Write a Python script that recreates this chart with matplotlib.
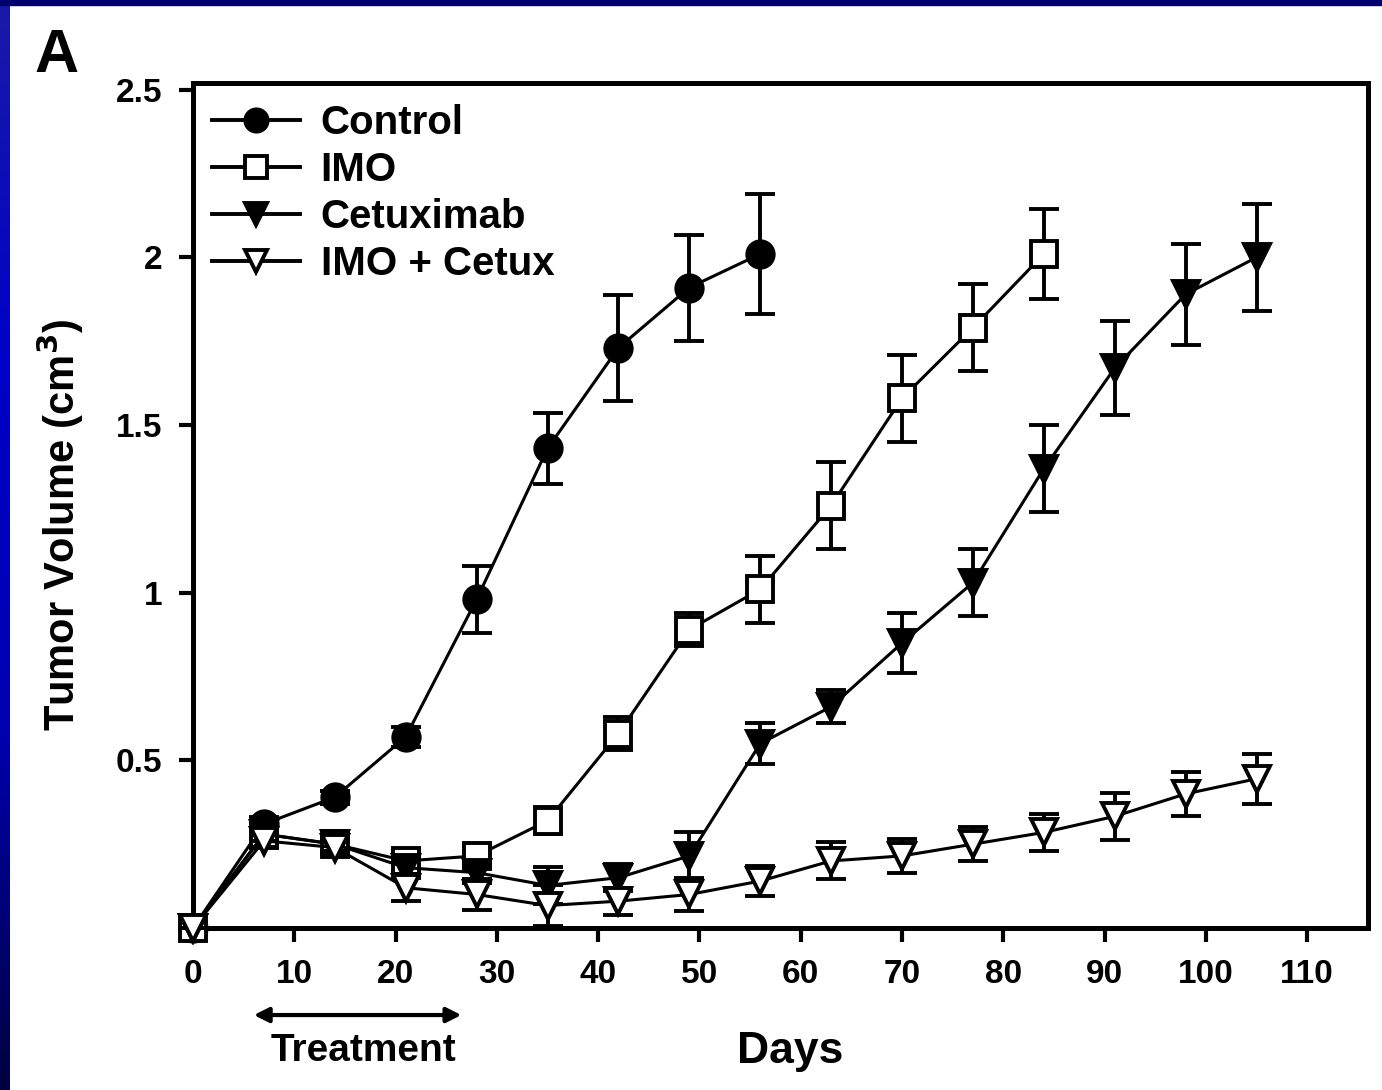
import numpy as np
import matplotlib
matplotlib.use("Agg")
import matplotlib.pyplot as plt
from matplotlib.patches import Rectangle
from matplotlib.lines import Line2D
from matplotlib.colors import LinearSegmentedColormap

plt.rcParams['font.family'] = ['Liberation Sans', 'DejaVu Sans']
plt.rcParams['font.weight'] = 'bold'

# tumour volume (cm3)
days_ctrl = [0, 7, 14, 21, 28, 35, 42, 49, 56]
ctrl = [0.0, 0.31, 0.39, 0.57, 0.98, 1.43, 1.73, 1.91, 2.01]
ctrl_err = [0, 0.02, 0.02, 0.03, 0.10, 0.105, 0.157, 0.158, 0.18]

days_imo = [0, 7, 14, 21, 28, 35, 42, 49, 56, 63, 70, 77, 84]
imo = [0.0, 0.28, 0.25, 0.20, 0.215, 0.32, 0.58, 0.89, 1.01, 1.26, 1.58, 1.79, 2.01]
imo_err = [0, 0.02, 0.03, 0.03, 0.03, 0.04, 0.05, 0.05, 0.10, 0.13, 0.13, 0.13, 0.134]

days_cet = [0, 7, 14, 21, 28, 35, 42, 49, 56, 63, 70, 77, 84, 91, 98, 105]
cet = [0.0, 0.28, 0.25, 0.18, 0.165, 0.127, 0.15, 0.215, 0.55, 0.66, 0.85, 1.03,
       1.37, 1.67, 1.89, 2.0]
cet_err = [0, 0.02, 0.02, 0.03, 0.03, 0.055, 0.04, 0.07, 0.06, 0.05, 0.09, 0.10,
           0.13, 0.14, 0.15, 0.16]

combo = [0.0, 0.26, 0.24, 0.12, 0.10, 0.067, 0.08, 0.10, 0.14, 0.20, 0.215, 0.25,
         0.285, 0.333, 0.40, 0.445]
combo_err = [0, 0.02, 0.02, 0.04, 0.045, 0.06, 0.04, 0.05, 0.045, 0.055, 0.05, 0.05,
             0.055, 0.07, 0.065, 0.075]

xticks = [0, 10, 20, 30, 40, 50, 60, 70, 80, 90, 100, 110]
yticks = [0.5, 1, 1.5, 2, 2.5]
ytick_labels = ['0.5', '1', '1.5', '2', '2.5']

W, H = 1382, 1090
fig = plt.figure(figsize=(W / 100, H / 100), dpi=100)
fig.patch.set_facecolor('white')

# blue slide frame
strip = fig.add_axes([0, 0, 10 / W, 1])
grad = np.linspace(0, 1, 256)[:, None]
cm = LinearSegmentedColormap.from_list('frame', ['#1a1aa8', '#0000c8', '#0000b0', '#000040'])
strip.imshow(grad, aspect='auto', cmap=cm, extent=[0, 1, 1, 0])
strip.axis('off')
fig.patches.append(Rectangle((0, 1 - 5 / H), 1, 5 / H, transform=fig.transFigure,
                             color='#00006e', zorder=5))

ax = fig.add_axes([193 / W, 1 - 928 / H, (1368 - 193) / W, (928 - 83) / H])

common = dict(color='black', lw=2.2, ms=19, mew=2.8, elinewidth=2.8,
              capsize=11, capthick=2.8, clip_on=False)
series = [
    (days_ctrl, ctrl, ctrl_err, 'o', 'black', 'Control'),
    (days_imo, imo, imo_err, 's', 'white', 'IMO'),
    (days_cet, cet, cet_err, 'v', 'black', 'Cetuximab'),
    (days_cet, combo, combo_err, 'v', 'white', 'IMO + Cetux'),
]
handles = []
for i, (x, y, e, m, fc, lab) in enumerate(series):
    ax.errorbar(x, y, yerr=e, marker=m, mfc=fc, mec='black', zorder=3 + i, **common)
    handles.append(Line2D([], [], color='black', lw=2.8, marker=m, ms=16, mew=2.8,
                          mfc=fc, mec='black', label=lab))

ax.set_xlim(0, 116)
ax.set_ylim(0, 2.52)
ax.set_xticks(xticks)
ax.set_yticks(yticks)
ax.set_yticklabels(ytick_labels)
for s in ax.spines.values():
    s.set_linewidth(3.6)
ax.tick_params(direction='out', length=10, width=3, labelsize=24, pad=12)

ax.legend(handles=handles, loc='upper left', bbox_to_anchor=(0.016, 0.975),
          frameon=False, fontsize=29, handlelength=2.2, handletextpad=0.5,
          labelspacing=0.22, borderpad=0, borderaxespad=0)

fig.text(790 / W, 1 - 1052 / H, 'Days', fontsize=32, fontweight='bold',
         ha='center', va='center')
fig.text(60 / W, 1 - 525 / H, 'Tumor Volume (cm$^{\\mathbf{3}}$)', fontsize=30,
         fontweight='bold', rotation=90, ha='center', va='center')
fig.text(57 / W, 1 - 57 / H, 'A', fontsize=44, fontweight='bold',
         ha='center', va='center')

# treatment period arrow below the axis
trans = ax.get_xaxis_transform()
ax.annotate('', xy=(6, -0.103), xytext=(26.5, -0.103), xycoords=trans,
            textcoords=trans,
            arrowprops=dict(arrowstyle='<|-|>', lw=3, color='black',
                            mutation_scale=22, shrinkA=0, shrinkB=0))
ax.text(16.8, -0.145, 'Treatment', transform=trans, fontsize=28,
        fontweight='bold', ha='center', va='center')

fig.savefig('out.png', dpi=100, facecolor=fig.get_facecolor())
